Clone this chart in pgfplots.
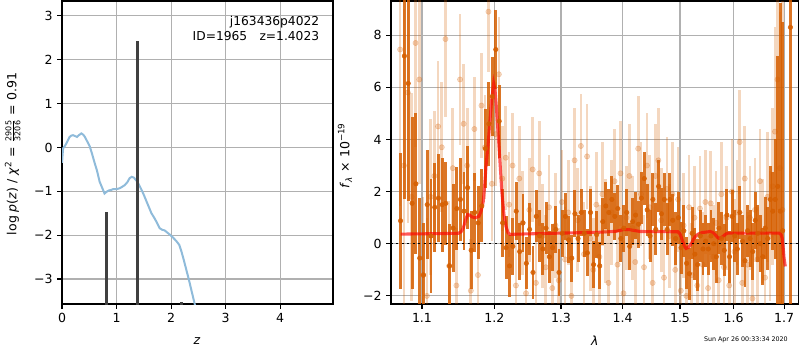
\documentclass[border=0pt]{standalone}
\usepackage{fontspec}
\setmainfont{DejaVu Sans}[ItalicFont={DejaVu Sans Oblique}]
\usepackage{pgfplots}
\pgfplotsset{compat=1.18}
\usepackage{pgfplotstable}
\definecolor{vermil}{RGB}{213,94,0}
\definecolor{pzblue}{RGB}{143,187,218}
\definecolor{gridgray}{RGB}{176,176,176}
\definecolor{bargray}{RGB}{64,64,64}

\pgfplotstableread{
l f e
1.072 0.88 2.6
1.077 7.2 5.5
1.082 6.15 4.5
1.087 1.55 3.3
1.092 2.3 2.7
1.097 -0.55 2.3
1.102 -1.2 2.0
1.107 1.5 2.1
1.112 0.3 2.2
1.117 1.4 1.7
1.122 1.75 1.7
1.127 1.5 1.8
1.132 1.55 1.6
1.137 -0.85 1.6
1.142 0.6 1.7
1.147 1.35 1.6
1.152 1.7 1.6
1.157 1.25 1.5
1.162 2.15 1.6
1.167 -0.25 1.5
1.172 1.2 1.5
1.177 0.8 1.4
1.182 1.45 1.4
1.187 3.65 1.5
1.192 4.6 1.6
1.197 5.65 1.5
1.202 7.45 1.5
1.207 4.7 1.4
1.212 0.8 1.3
1.217 -0.15 1.2
1.222 -0.85 1.2
1.227 -0.1 1.1
1.232 1.25 1.1
1.237 -0.3 1.1
1.242 0.8 1.1
1.247 -0.75 1.0
1.252 0.55 1.0
1.257 -1.1 1.0
1.262 1.05 1.0
1.267 0.3 1.0
1.272 -0.2 1.0
1.277 0.6 1.0
1.282 -0.5 1.0
1.287 -0.15 0.9
1.292 0.55 0.9
1.297 -1.1 0.9
1.302 0.4 0.9
1.307 1.05 0.9
1.312 0.15 0.9
1.317 -0.55 0.9
1.322 1.15 0.9
1.327 0.2 0.9
1.332 1.2 0.9
1.337 0.4 0.9
1.342 -0.35 0.9
1.347 1.2 0.9
1.352 -0.8 0.9
1.357 0.35 0.9
1.362 -0.85 0.9
1.367 0.85 0.9
1.372 1.45 0.9
1.377 1.2 0.9
1.382 1.7 0.9
1.387 1.05 0.9
1.392 1.35 0.9
1.397 0.2 0.9
1.402 0.6 0.9
1.407 1.2 0.9
1.412 -0.1 0.9
1.417 0.85 0.9
1.422 1.1 0.9
1.427 0.75 0.9
1.432 1.75 1.0
1.437 2.5 1.0
1.442 1.3 1.0
1.447 0.3 1.0
1.452 1.7 1.0
1.457 0.55 1.0
1.462 2.2 1.0
1.467 1.15 1.0
1.472 1.7 1.0
1.477 0.55 1.0
1.482 1.7 1.0
1.487 0.9 1.0
1.492 0.2 1.0
1.497 1.0 1.0
1.502 -0.15 1.0
1.507 0.5 1.0
1.512 -0.75 1.0
1.517 -1.15 1.0
1.522 0.4 1.0
1.527 -0.4 1.0
1.532 -0.8 1.0
1.537 0.3 1.0
1.542 -0.2 1.0
1.547 0.1 1.0
1.552 -0.2 1.0
1.557 0.3 1.0
1.562 0.0 1.0
1.567 -0.5 1.0
1.572 0.6 1.0
1.577 0.2 1.0
1.582 -0.25 1.0
1.587 1.1 1.0
1.592 -0.5 1.0
1.597 1.05 1.0
1.602 0.3 1.0
1.607 -0.2 1.0
1.612 1.2 1.0
1.617 0.1 1.0
1.622 -0.65 1.0
1.627 0.5 1.0
1.632 0.2 1.1
1.637 -0.3 1.1
1.642 0.9 1.1
1.647 0.4 1.1
1.652 0.0 1.1
1.657 -0.5 1.1
1.662 0.6 1.2
1.667 0.2 1.2
1.672 1.7 1.3
1.677 1.25 1.5
1.682 1.7 2.3
1.687 2.2 5.0
1.692 1.25 8.0
1.697 0.5 8.0
1.713 8.3 12
}\darktab

\pgfplotstableread{
l f e
1.0715 7.45 6
1.0765 3.0 6
1.0815 5.8 5
1.0865 1.8 4
1.0915 7.7 4
1.0965 6.3 4
1.1015 -1.2 3
1.1065 -2.0 3
1.1115 1.8 3
1.1165 2.6 2.5
1.1215 4.5 2.5
1.1265 3.7 2.5
1.1315 7.85 3
1.1365 -0.85 2.5
1.1415 2.9 2.3
1.1465 -1.6 2.2
1.1515 6.3 2.5
1.1565 4.6 2.3
1.1615 3.0 2.2
1.1665 -1.8 2
1.1715 4.4 2
1.1765 -1.2 2
1.1815 5.3 2
1.1865 3.7 2
1.1915 8.9 2.3
1.1965 2.3 2.2
1.2015 4.2 2
1.2065 6.5 2.2
1.2115 2.5 2
1.2165 3.3 2
1.2215 1.5 2
1.2265 3.0 2
1.2315 -1.6 2
1.2365 2.5 2
1.2415 0.8 2
1.2465 -1.9 2
1.2515 1.3 2
1.2565 2.85 2
1.2615 -1.5 2
1.2665 2.7 2
1.2715 0.3 2
1.2765 -0.9 2
1.2815 1.4 2
1.2865 -1.7 2
1.2915 0.7 2
1.2965 -1.4 2
1.3015 1.6 2
1.3065 -0.6 2
1.3115 1.2 2
1.3165 -2.0 2
1.3215 3.2 2
1.3265 0.9 2
1.3315 3.75 2
1.3365 -0.4 2
1.3415 3.35 2
1.3465 0.2 2
1.3515 -1.0 2
1.3565 1.5 2
1.3615 -0.5 2
1.3665 1.9 2
1.3715 0.5 2
1.3765 -1.5 2
1.3815 1.2 2
1.3865 2.4 2
1.3915 -0.8 2
1.3965 2.7 2
1.4015 -1.9 2
1.4065 1.0 2
1.4115 2.6 2
1.4165 0.6 2
1.4215 -0.7 2
1.4265 3.65 2
1.4315 1.9 2
1.4365 -0.9 2
1.4415 3.0 2
1.4465 1.4 2
1.4515 -1.5 2
1.4565 2.6 2
1.4615 3.2 2
1.4665 0.9 2
1.4715 -1.3 2
1.4765 2.1 2
1.4815 0.3 2
1.4865 1.9 2
1.4915 -1.0 2
1.4965 1.7 2
1.5015 -1.8 2
1.5065 0.7 2
1.5115 -2.0 2
1.5165 1.4 2
1.5215 -1.2 2
1.5265 1.0 2
1.5315 -1.6 2
1.5365 1.35 2
1.5415 -0.8 2
1.5465 1.6 2
1.5515 -1.7 2
1.5565 1.55 2
1.5615 -0.5 2
1.5665 0.8 2
1.5715 -1.4 2
1.5765 1.9 2
1.5815 -0.9 2
1.5865 1.0 2
1.5915 -1.6 2
1.5965 2.0 2
1.6015 -0.3 2
1.6065 1.2 2
1.6115 3.9 2
1.6165 -1.5 2
1.6215 2.5 2
1.6265 -0.8 2
1.6315 1.0 2
1.6365 -2.1 2
1.6415 1.3 2
1.6465 -0.6 2
1.6515 2.4 2
1.6565 0.5 2
1.6615 -1.3 2
1.6665 1.8 2.5
1.6715 0.3 2.5
1.6765 2.2 3
1.6815 4.3 4
1.6865 6.3 5
1.6915 2.9 6
1.6965 1.3 8
}\lighttab

\pgfplotsset{
  mplax/.style={
    scale only axis,
    axis line style={line width=0.83pt},
    grid=major,
    major grid style={gridgray, line width=0.83pt},
    tick align=outside,
    major tick length=3.6pt,
    tick style={black, line width=0.83pt},
    xtick pos=left, ytick pos=left,
    ticklabel style={font=\fontsize{9.4}{11}\selectfont},
    label style={font=\fontsize{9.4}{11}\selectfont},
    /pgf/number format/assume math mode=true,
  }
}

\begin{document}
\begin{tikzpicture}
\useasboundingbox (0,0) rectangle (600pt,262.5pt);

% ---------- left panel: p(z) ----------
\begin{axis}[mplax,
  at={(46.5pt,34.5pt)}, anchor=south west,
  width=203.25pt, height=227.25pt,
  xmin=0, xmax=4.97, ymin=-3.57, ymax=3.34,
  xtick={0,1,2,3,4},
  ytick={-3,-2,-1,0,1,2,3},
  yticklabels={−3,−2,−1,0,1,2,3},
  xlabel={\textit{z}},
  xlabel style={at={(axis description cs:0.498,-0.122)}, anchor=center},
  ylabel={log \textit{p}(\textit{z}) / \textit{χ}\textsuperscript{2} = $\frac{\mbox{\fontsize{6}{7}\selectfont 2905}}{\mbox{\fontsize{6}{7}\selectfont 3206}}$ = 0.91},
  ylabel style={at={(axis description cs:-0.182,0.495)}, anchor=center},
]
\addplot[pzblue, line width=1.5pt] coordinates {
(0.0,-0.35) (0.02,-0.02) (0.05,0.03) (0.08,0.09) (0.11,0.17) (0.14,0.24)
(0.17,0.27) (0.2,0.28) (0.24,0.26) (0.275,0.24) (0.31,0.28) (0.355,0.32)
(0.39,0.29) (0.42,0.24) (0.47,0.12) (0.51,0.02) (0.55,-0.14) (0.6,-0.36)
(0.64,-0.52) (0.69,-0.78) (0.74,-0.93) (0.78,-1.05) (0.81,-1.02) (0.83,-1.0)
(0.86,-0.98) (0.9,-0.97) (0.94,-0.95) (1.0,-0.95) (1.06,-0.93) (1.1,-0.9)
(1.15,-0.86) (1.2,-0.79) (1.24,-0.70) (1.28,-0.67) (1.32,-0.69) (1.38,-0.78)
(1.42,-0.87) (1.46,-0.97) (1.5,-1.08) (1.55,-1.23) (1.6,-1.38) (1.64,-1.50)
(1.69,-1.6) (1.73,-1.69) (1.79,-1.84) (1.84,-1.88) (1.88,-1.89) (1.93,-1.94)
(1.98,-1.99) (2.04,-2.06) (2.1,-2.14) (2.15,-2.22) (2.19,-2.37) (2.23,-2.55)
(2.28,-2.79) (2.33,-3.03) (2.37,-3.24) (2.43,-3.55) (2.48,-3.85)
};
\addplot[bargray, line width=2.5pt] coordinates {(0.81,-3.8) (0.81,-1.47)};
\addplot[bargray, line width=2.5pt] coordinates {(1.39,-3.8) (1.39,2.43)};
\addplot[bargray, line width=2.2pt] coordinates {(2.20,-3.8) (2.20,-3.52)};
\node[anchor=north east, align=right, font=\fontsize{9.2}{10.8}\selectfont, inner sep=0pt]
  at (axis description cs:0.95,0.95) {j163436p4022\\ID=1965\hspace{1.0em}z=1.4023};
\end{axis}

% ---------- right panel: spectrum ----------
\begin{axis}[mplax,
  at={(293.25pt,34.5pt)}, anchor=south west,
  width=305.6pt, height=227.25pt,
  xmode=log,
  xmin=1.0598, xmax=1.7296, ymin=-2.31, ymax=9.31,
  xtick={1.1,1.2,1.3,1.4,1.5,1.6,1.7},
  xticklabels={1.1,1.2,1.3,1.4,1.5,1.6,1.7},
  minor xtick={},
  ytick={-2,0,2,4,6,8},
  yticklabels={−2,0,2,4,6,8},
  xlabel={\textit{λ}},
  xlabel style={at={(axis description cs:0.5,-0.122)}, anchor=center},
  ylabel={\textit{f}\textsubscript{\textit{λ}} × 10\textsuperscript{−19}},
  ylabel style={at={(axis description cs:-0.113,0.49)}, anchor=center},
]
\addplot[only marks, mark=*, mark size=2pt, color=vermil, opacity=0.25,
  error bars/.cd, y dir=both, y explicit,
  error bar style={line width=2pt, vermil, opacity=0.25}, error mark=none]
  table[x=l, y=f, y error=e]{\lighttab};
\addplot[only marks, mark=*, mark size=1.7pt, color=vermil, opacity=0.85,
  error bars/.cd, y dir=both, y explicit,
  error bar style={line width=2.2pt, vermil, opacity=0.85}, error mark=none]
  table[x=l, y=f, y error=e]{\darktab};
\addplot[red, opacity=0.65, line width=2.3pt] coordinates {
(1.0722,0.37) (1.149,0.40) (1.153,0.46) (1.156,0.60) (1.159,0.90) (1.162,1.12)
(1.165,1.10) (1.168,1.03) (1.173,1.00) (1.178,1.05) (1.181,1.25) (1.184,1.60)
(1.186,2.2) (1.188,2.97) (1.191,3.8) (1.193,4.5) (1.196,5.5) (1.199,6.15)
(1.201,5.9) (1.203,5.2) (1.207,3.6) (1.211,1.95) (1.214,1.1) (1.217,0.65)
(1.220,0.42) (1.223,0.36) (1.25,0.38) (1.303,0.41) (1.36,0.44) (1.39,0.48)
(1.4007,0.54) (1.412,0.54) (1.43,0.47) (1.4963,0.46) (1.500,0.38) (1.504,0.15)
(1.508,-0.10) (1.511,-0.18) (1.515,-0.14) (1.520,-0.02) (1.524,0.15) (1.528,0.28)
(1.534,0.38) (1.541,0.43) (1.5556,0.47) (1.5605,0.43) (1.5647,0.35) (1.569,0.25)
(1.572,0.21) (1.576,0.23) (1.58,0.29) (1.584,0.36) (1.589,0.41) (1.690,0.41)
(1.694,0.35) (1.696,0.22) (1.698,-0.1) (1.700,-0.55) (1.7025,-0.87)
};
\addplot[black, line width=1.1pt, dash pattern=on 1.5pt off 2.6pt] coordinates {(1.0598,0) (1.7296,0)};
\end{axis}

\node[anchor=base east, inner sep=0pt, font=\fontsize{4.75}{5}\selectfont] at (591pt,6.4pt) {Sun Apr 26 00:33:34 2020};
\end{tikzpicture}
\end{document}
